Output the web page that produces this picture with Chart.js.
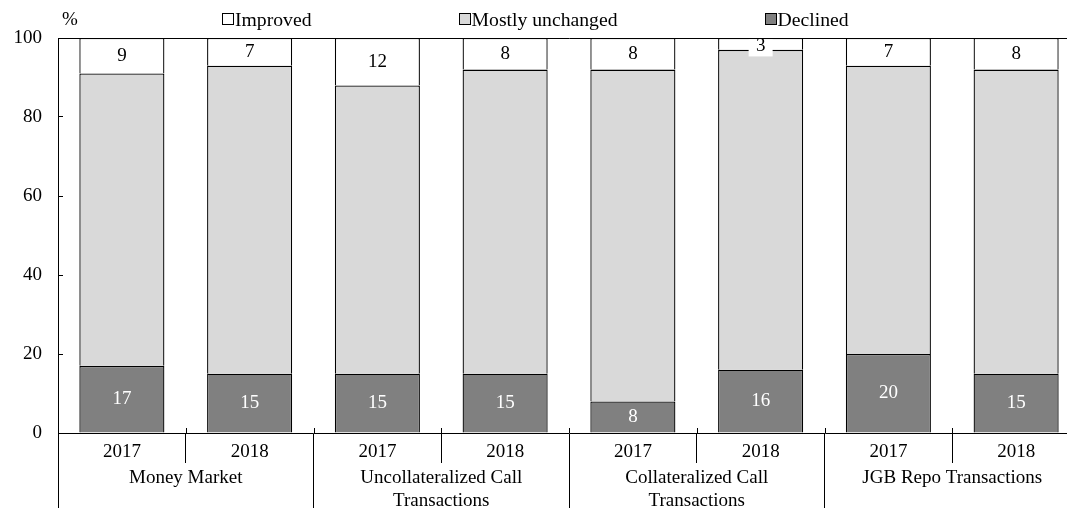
<!DOCTYPE html>
<html lang="en">
<head>
<meta charset="UTF-8">
<title>Money market functioning survey</title>
<script src="https://cdn.jsdelivr.net/npm/chart.js"></script>
<style>
    body {
        margin: 0;
        background: #fff;
        font-family: 'Liberation Serif', 'Times New Roman', serif;
        color: #000;
        overflow: hidden;
    }
    .wrap {
        position: relative;
        width: 1067px;
        height: 508px;
        overflow: hidden;
    }
    .unit {
        position: absolute;
        left: 62px;
        top: 8px;
        font-size: 19px;
        line-height: 22px;
    }
    .legend {
        position: absolute;
        left: 222px;
        top: 8px;
        display: flex;
        font-size: 19.7px;
        line-height: 22px;
    }
    .legend span.item { display: flex; align-items: center; }
    .legend span.item + span.item { margin-left: 147px; }
    .legend span.item:last-child { margin-left: 148px; }
    .legend i {
        display: inline-block;
        width: 10px;
        height: 10px;
        border: 1px solid #000;
        margin-right: 1px;
    }
    canvas { position: absolute; left: 0; top: 0; }
</style>
</head>
<body>
<div class="wrap">
    <canvas id="chart" width="1082" height="508"></canvas>
    <div class="unit">%</div>
    <div class="legend" id="legend"></div>
</div>

<script>
    // categories
    const groups = [
        ['Money Market'],
        ['Uncollateralized Call', 'Transactions'],
        ['Collateralized Call', 'Transactions'],
        ['JGB Repo Transactions']
    ];
    const years = ['2017', '2018'];

    // shares of answers, %
    const declined  = [17, 15, 15, 15, 8, 16, 20, 15];
    const unchanged = [74, 78, 73, 77, 84, 81, 73, 77];
    const improved  = [9, 7, 12, 8, 8, 3, 7, 8];

    const yTicks = [0, 20, 40, 60, 80, 100];

    const labels = groups.flatMap(() => years);

    const series = [
        { name: 'Declined', data: declined, fill: '#808080', text: '#fff' },
        { name: 'Mostly unchanged', data: unchanged, fill: '#d9d9d9', text: null },
        { name: 'Improved', data: improved, fill: '#ffffff', text: '#000' }
    ];

    // legend, Improved first
    const legend = document.getElementById('legend');
    series.slice().reverse().forEach(s => {
        const item = document.createElement('span');
        item.className = 'item';
        item.innerHTML = '<i style="background:' + s.fill + '"></i>' + s.name;
        legend.appendChild(item);
    });

    Chart.defaults.font.family = "'Liberation Serif', 'Times New Roman', serif";
    Chart.defaults.font.size = 19;
    Chart.defaults.color = '#000';

    // value labels centred in the segments
    const valueLabels = {
        id: 'valueLabels',
        afterDatasetsDraw(chart) {
            const ctx = chart.ctx;
            ctx.save();
            ctx.font = "19px 'Liberation Serif', 'Times New Roman', serif";
            ctx.textAlign = 'center';
            ctx.textBaseline = 'middle';
            chart.data.datasets.forEach((ds, di) => {
                if (!ds.labelColor) return;
                chart.getDatasetMeta(di).data.forEach((bar, i) => {
                    const h = Math.abs(bar.base - bar.y);
                    let y = (bar.y + bar.base) / 2;
                    if (h < 18) {
                        y += 2.5;
                        ctx.fillStyle = '#fff';
                        ctx.fillRect(bar.x - 12, y - 7, 24, 17);
                    }
                    ctx.fillStyle = ds.labelColor;
                    ctx.fillText(String(ds.data[i]), bar.x, y);
                });
            });
            ctx.restore();
        }
    };

    // tick marks that cross the category axis a little above the baseline
    const crossTicks = {
        id: 'crossTicks',
        afterDraw(chart) {
            const x = chart.scales.x;
            const ctx = chart.ctx;
            const half = (x.getPixelForValue(1) - x.getPixelForValue(0)) / 2;
            ctx.save();
            ctx.strokeStyle = '#000';
            ctx.lineWidth = 1;
            ctx.beginPath();
            for (let i = 1; i < labels.length; i++) {
                const px = Math.round(x.getPixelForValue(i) - half) + 0.5;
                ctx.moveTo(px, x.top - 5);
                ctx.lineTo(px, x.top);
            }
            ctx.stroke();
            ctx.restore();
        }
    };

    new Chart(document.getElementById('chart'), {
        type: 'bar',
        data: {
            labels: labels,
            datasets: series.map(s => ({
                label: s.name,
                data: s.data,
                backgroundColor: s.fill,
                borderColor: '#000',
                borderWidth: 1.3,
                labelColor: s.text,
                barPercentage: 0.666,
                categoryPercentage: 1
            }))
        },
        options: {
            responsive: false,
            animation: false,
            layout: { padding: { top: 38, left: 13.5, right: 2, bottom: -2 } },
            plugins: {
                legend: { display: false },
                tooltip: { enabled: false }
            },
            scales: {
                x: {
                    stacked: true,
                    offset: true,
                    grid: { offset: true, drawOnChartArea: false, tickLength: 30, color: '#000', lineWidth: 1 },
                    border: { color: '#000', width: 1 },
                    ticks: { padding: -22, maxRotation: 0, autoSkip: false },
                    afterFit: s => { s.height = 29.4; }
                },
                x2: {
                    type: 'category',
                    position: 'bottom',
                    labels: groups,
                    offset: true,
                    grid: { offset: true, drawOnChartArea: false, tickLength: 50, color: '#000', lineWidth: 1 },
                    border: { display: false },
                    ticks: { padding: -45.5, maxRotation: 0, autoSkip: false, font: { lineHeight: 1.184 } },
                    afterFit: s => { s.height = 47.6; }
                },
                y: {
                    stacked: true,
                    min: 0,
                    max: 100,
                    afterBuildTicks: axis => { axis.ticks = yTicks.map(v => ({ value: v })); },
                    grid: {
                        color: c => (c.tick && c.tick.value === 100 ? '#000' : 'rgba(0,0,0,0)'),
                        tickColor: '#000',
                        tickLength: -5,
                        lineWidth: 1
                    },
                    border: { color: '#000', width: 1 },
                    ticks: { padding: 21 },
                    afterFit: s => { s.width = 44.5; }
                }
            }
        },
        plugins: [valueLabels, crossTicks]
    });
</script>
</body>
</html>
